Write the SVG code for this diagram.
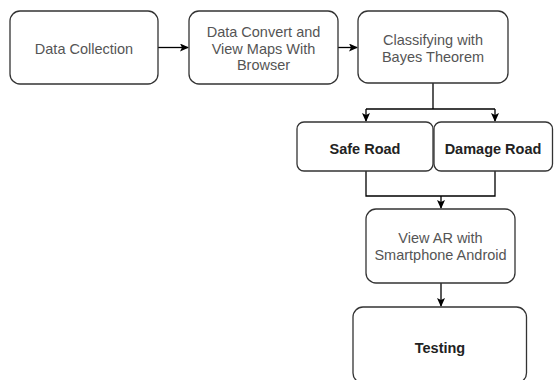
<svg xmlns="http://www.w3.org/2000/svg" width="554" height="380" viewBox="0 0 554 380">
<defs>
<marker id="arr" markerWidth="10" markerHeight="10" refX="8" refY="4" orient="auto" markerUnits="userSpaceOnUse">
<path d="M0,0 L9,4 L0,8 L2,4 z" fill="#000"/>
</marker>
<style>
.box{fill:#fff;stroke:#333;stroke-width:1.3}
.t{font-family:"Liberation Sans",Arial,sans-serif;font-size:14.5px;fill:#555;text-anchor:middle}
.b{font-family:"Liberation Sans",Arial,sans-serif;font-size:14.5px;font-weight:bold;fill:#222;text-anchor:middle}
.c{fill:none;stroke:#000;stroke-width:1.3}
</style>
</defs>
<rect width="554" height="380" fill="#fff"/>
<g id="connectors">
<line class="c" x1="158" y1="47.5" x2="188" y2="47.5" marker-end="url(#arr)"/>
<line class="c" x1="338" y1="47.5" x2="357" y2="47.5" marker-end="url(#arr)"/>
<polyline class="c" points="433,83 433,109"/>
<line class="c" x1="366" y1="109" x2="495" y2="109"/>
<line class="c" x1="366" y1="109" x2="366" y2="121" marker-end="url(#arr)"/>
<line class="c" x1="495" y1="109" x2="495" y2="121" marker-end="url(#arr)"/>
<polyline class="c" points="366,171 366,196 495,196 495,171"/>
<line class="c" x1="441" y1="196" x2="441" y2="208" marker-end="url(#arr)"/>
<line class="c" x1="441" y1="283" x2="441" y2="306" marker-end="url(#arr)"/>
</g>
<g id="n1"><rect class="box" x="10" y="11" width="148" height="73" rx="10"/><text class="t" x="84" y="53.5">Data Collection</text></g>
<g id="n2"><rect class="box" x="189" y="11" width="149" height="73" rx="10"/><text class="t" x="263.5" y="37">Data Convert and</text><text class="t" x="263.5" y="53.5">View Maps With</text><text class="t" x="263.5" y="70">Browser</text></g>
<g id="n3"><rect class="box" x="358" y="11" width="150" height="72" rx="10"/><text class="t" x="433" y="45">Classifying with</text><text class="t" x="433" y="62">Bayes Theorem</text></g>
<g id="n4"><rect class="box" x="297" y="122" width="136" height="49" rx="7"/><text class="b" x="365" y="154">Safe Road</text></g>
<g id="n5"><rect class="box" x="434" y="122" width="118.5" height="49" rx="7"/><text class="b" x="493" y="154">Damage Road</text></g>
<g id="n6"><rect class="box" x="366" y="209" width="149" height="74" rx="10"/><text class="t" x="440.5" y="243">View AR with</text><text class="t" x="440.5" y="260">Smartphone Android</text></g>
<g id="n7"><rect class="box" x="353" y="307" width="173.5" height="76" rx="10"/><text class="b" x="440" y="353">Testing</text></g>
</svg>
